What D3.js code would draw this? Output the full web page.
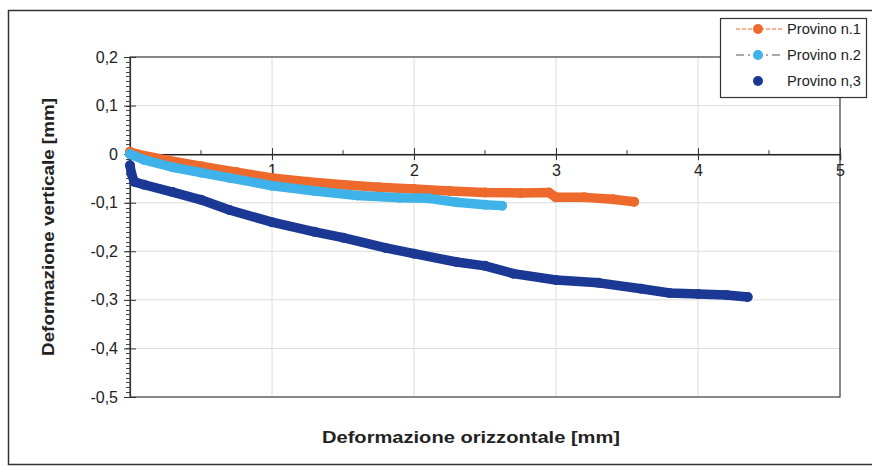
<!DOCTYPE html>
<html>
<head>
<meta charset="utf-8">
<script src="https://cdn.jsdelivr.net/npm/d3@7"></script>
<style>
  body { margin: 0; background: #fff; }
  text { font-family: Arial, "Liberation Sans", sans-serif; }
</style>
</head>
<body>
<div id="chart"></div>
<script>
// data
const x1 = [0, 0.05, 0.25, 0.5, 0.75, 1.0, 1.25, 1.5, 1.75, 2.0, 2.25, 2.5, 2.75, 2.95, 3.0, 3.2, 3.4, 3.55]
const y1 = [0.005, 0.0, -0.012, -0.025, -0.037, -0.049, -0.057, -0.063, -0.068, -0.072, -0.076, -0.079, -0.08, -0.079, -0.089, -0.089, -0.093, -0.098]

const x2 = [0, 0.1, 0.3, 0.5, 0.7, 1.0, 1.3, 1.6, 1.9, 2.1, 2.3, 2.5, 2.62]
const y2 = [0.0, -0.012, -0.027, -0.038, -0.049, -0.065, -0.076, -0.085, -0.09, -0.091, -0.099, -0.104, -0.106]

const x3 = [0, 0.01, 0.03, 0.1, 0.3, 0.5, 0.7, 1.0, 1.3, 1.5, 1.8, 2.0, 2.3, 2.5, 2.7, 3.0, 3.3, 3.6, 3.8, 4.0, 4.2, 4.35]
const y3 = [-0.023, -0.04, -0.057, -0.063, -0.078, -0.094, -0.115, -0.14, -0.16, -0.172, -0.193, -0.205, -0.222, -0.23, -0.246, -0.259, -0.265, -0.277, -0.286, -0.288, -0.29, -0.294]

const seriesNames = ["Provino n.1", "Provino n.2", "Provino n,3"]
const seriesColors = ["#ee6a2c", "#40b2ea", "#1b3894"]

const xTicks = [1, 2, 3, 4, 5]
const yTicks = [0.2, 0.1, 0, -0.1, -0.2, -0.3, -0.4, -0.5]

const W = 872, H = 469
const plot = {left: 130, right: 840, top: 57, bottom: 397}

const svg = d3.select("#chart").append("svg")
  .attr("width", W).attr("height", H)

// outer frame
svg.append("rect")
  .attr("x", 8.5).attr("y", 10.5)
  .attr("width", 870).attr("height", 454)
  .attr("fill", "none").attr("stroke", "#333").attr("stroke-width", 1.5)

const x = d3.scaleLinear().domain([0, 5]).range([plot.left, plot.right])
const y = d3.scaleLinear().domain([-0.5, 0.2]).range([plot.bottom, plot.top])

// grid
svg.append("g").selectAll("line")
  .data(yTicks)
  .join("line")
    .attr("x1", plot.left).attr("x2", plot.right)
    .attr("y1", d => y(d)).attr("y2", d => y(d))
    .attr("stroke", "#dcdcdc").attr("stroke-width", 1)
svg.append("g").selectAll("line")
  .data(xTicks)
  .join("line")
    .attr("x1", d => x(d)).attr("x2", d => x(d))
    .attr("y1", plot.top).attr("y2", plot.bottom)
    .attr("stroke", "#dcdcdc").attr("stroke-width", 1)

// plot border
svg.append("rect")
  .attr("x", plot.left).attr("y", plot.top)
  .attr("width", plot.right - plot.left).attr("height", plot.bottom - plot.top)
  .attr("fill", "none").attr("stroke", "#444").attr("stroke-width", 1.2)

// y axis, minor ticks every 0.01
const yMinor = d3.range(-50, 21).map(d => d / 100)
svg.append("g").selectAll("line")
  .data(yMinor)
  .join("line")
    .attr("x1", plot.left - 4).attr("x2", plot.left)
    .attr("y1", d => Math.round(y(d)) + 0.5).attr("y2", d => Math.round(y(d)) + 0.5)
    .attr("stroke", "#444").attr("stroke-width", 1)

const fmtY = d => {
  if (Math.abs(d) < 1e-9) return "0"
  return (d < 0 ? "-" : "") + Math.abs(d).toFixed(1).replace(".", ",")
}

const yAxis = svg.append("g")
  .attr("transform", `translate(${plot.left},0)`)
  .call(d3.axisLeft(y).tickValues(yTicks).tickSize(6).tickFormat(fmtY))
yAxis.select(".domain").attr("stroke", "#333").attr("stroke-width", 1.2)
yAxis.selectAll(".tick line").attr("x2", 6).attr("x1", -6).attr("stroke", "#333")
yAxis.selectAll(".tick text")
  .attr("x", -12)
  .attr("font-size", 16).attr("fill", "#222")
  .attr("font-family", "Arial, 'Liberation Sans', sans-serif")

// x axis at y = 0
const xMinor = d3.range(1, 10, 2).map(d => d / 2)
svg.append("g").selectAll("line")
  .data(xMinor)
  .join("line")
    .attr("x1", d => x(d)).attr("x2", d => x(d))
    .attr("y1", y(0) - 4).attr("y2", y(0))
    .attr("stroke", "#333")

const xAxis = svg.append("g")
  .attr("transform", `translate(0,${y(0)})`)
  .call(d3.axisBottom(x).tickValues(xTicks).tickSize(6).tickFormat(d3.format("d")))
xAxis.select(".domain").attr("stroke", "#222").attr("stroke-width", 1.5)
xAxis.selectAll(".tick line").attr("y1", -6).attr("y2", 6).attr("stroke", "#333")
xAxis.selectAll(".tick text")
  .attr("y", 10)
  .attr("font-size", 16).attr("fill", "#222")
  .attr("font-family", "Arial, 'Liberation Sans', sans-serif")

// series
const allSeries = [[x1, y1], [x2, y2], [x3, y3]]
const line = d3.line().x(d => x(d[0])).y(d => y(d[1])).curve(d3.curveLinear)

// draw 3 and 1 first, then 2 on top near the origin like the picture
const order = [2, 0, 1]
for (let i of order) {
  const pts = allSeries[i][0].map((v, k) => [v, allSeries[i][1][k]])
  svg.append("path")
    .datum(pts)
    .attr("d", line)
    .attr("fill", "none")
    .attr("stroke", seriesColors[i])
    .attr("stroke-width", 9.5)
    .attr("stroke-linecap", "round")
    .attr("stroke-linejoin", "round")
  svg.append("g").selectAll("circle")
    .data(pts)
    .join("circle")
      .attr("cx", d => x(d[0])).attr("cy", d => y(d[1]))
      .attr("r", 5)
      .attr("fill", seriesColors[i])
}

// axis titles
svg.append("text")
  .attr("transform", `translate(54,${(plot.top + plot.bottom) / 2}) rotate(-90)`)
  .attr("text-anchor", "middle")
  .attr("font-size", 16).attr("font-weight", "bold").attr("fill", "#222")
  .attr("textLength", 258).attr("lengthAdjust", "spacingAndGlyphs")
  .text("Deformazione verticale [mm]")

svg.append("text")
  .attr("x", 471).attr("y", 443)
  .attr("text-anchor", "middle")
  .attr("font-size", 17).attr("font-weight", "bold").attr("fill", "#222")
  .attr("textLength", 298).attr("lengthAdjust", "spacingAndGlyphs")
  .text("Deformazione orizzontale  [mm]")

// legend
const lg = svg.append("g")
lg.append("rect")
  .attr("x", 720.5).attr("y", 18.5).attr("width", 146).attr("height", 79)
  .attr("fill", "#fff").attr("stroke", "#333").attr("stroke-width", 1.2)

const dashes = ["4,2", "8,4,2,4", null]
seriesNames.forEach((name, i) => {
  const cy = 29 + i * 26
  if (dashes[i]) {
    lg.append("line")
      .attr("x1", 736).attr("x2", 783).attr("y1", cy).attr("y2", cy)
      .attr("stroke", i == 0 ? seriesColors[i] : "#555")
      .attr("stroke-width", 1.2)
      .attr("stroke-dasharray", dashes[i])
  }
  lg.append("circle")
    .attr("cx", 758).attr("cy", cy).attr("r", 5)
    .attr("fill", seriesColors[i])
  lg.append("text")
    .attr("x", 787).attr("y", cy + 5)
    .attr("font-size", 14).attr("fill", "#222")
    .attr("textLength", 74).attr("lengthAdjust", "spacingAndGlyphs")
    .text(name)
})
</script>
</body>
</html>
